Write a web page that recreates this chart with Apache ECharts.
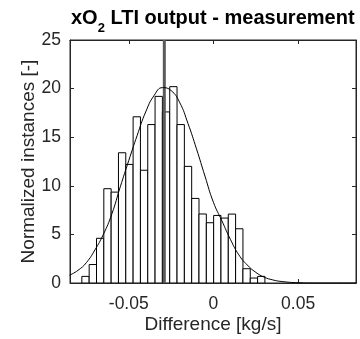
<!DOCTYPE html>
<html>
<head>
<meta charset="utf-8">
<script src="https://cdn.jsdelivr.net/npm/echarts@6/dist/echarts.min.js"></script>
<style>html,body{margin:0;padding:0;background:#fff}#c{width:360px;height:339px}</style>
</head>
<body>
<div id="c"></div>
<script>
// Histogram bin edges (kg/s) and normalized heights
var binEdges = [-0.0777, -0.07338, -0.06905, -0.06473, -0.0604, -0.05608, -0.05176, -0.04743, -0.04311, -0.03878,
  -0.03446, -0.03014, -0.02581, -0.02149, -0.01716, -0.01284, -0.00852, -0.00419, 0.00013, 0.00446,
  0.00878, 0.0131, 0.01743, 0.02175, 0.02608, 0.0304];
var binHeights = [0.68, 1.9, 4.6, 9.7, 9.35, 13.4, 12.2, 17.1, 11.6, 16.3, 19.2, 17.6, 20.2, 16.3, 12.0,
  8.7, 7.1, 6.2, 6.95, 6.68, 7.09, 5.58, 1.47, 0.51, 0.68];
// Fitted normal curve
var curveX = [-0.085, -0.08, -0.075, -0.07, -0.065, -0.06, -0.055, -0.05, -0.045, -0.04, -0.035, -0.03,
  -0.025, -0.02, -0.015, -0.01, -0.005, 0, 0.005, 0.01, 0.015, 0.02, 0.025, 0.03, 0.035, 0.04, 0.05, 0.06, 0.07, 0.085];
var curveY = [0.8, 1.3, 2.1, 3.4, 5.0, 7.1, 9.9, 12.6, 15.2, 17.6, 19.3, 20.1,
  19.8, 18.6, 16.4, 13.8, 11.0, 8.3, 6.4, 4.5, 2.9, 1.85, 1.1, 0.6, 0.32, 0.16, 0.03, 0.0, 0.0, 0.0];
// Mean marker
var meanX = [-0.029, -0.029];
var meanY = [0, 25];
// Axis ticks
var xTicks = [-0.05, 0, 0.05];
var xTickLabels = ['-0.05', '0', '0.05'];
var yTicks = [0, 5, 10, 15, 20, 25];
var xMin = -0.0847, xMax = 0.0842;

var axisColor = '#262626';
var font = 'Liberation Sans, Arial, Helvetica, sans-serif';

var barData = [];
for (var i = 0; i < binHeights.length; i++) barData.push([binEdges[i], binEdges[i + 1], binHeights[i]]);
var curveData = curveX.map(function (x, i) { return [x, curveY[i]]; });
var meanData = meanX.map(function (x, i) { return [x, meanY[i]]; });

var chart = echarts.init(document.getElementById('c'), null, { renderer: 'canvas' });
chart.setOption({
  animation: false,
  backgroundColor: '#fff',
  title: {
    text: '{b|xO}{s|2}{b| LTI output - measurement}',
    left: 71, top: 8, padding: 0,
    textStyle: {
      rich: {
        b: { fontFamily: font, fontWeight: 'bold', fontSize: 20, color: '#000', lineHeight: 22, verticalAlign: 'top' },
        s: { fontFamily: font, fontWeight: 'bold', fontSize: 13, color: '#000', lineHeight: 9, padding: [14, 0, 0, 0], verticalAlign: 'top' }
      }
    }
  },
  grid: { left: 70, right: 4, top: 40, bottom: 56, show: true, borderColor: axisColor, borderWidth: 1, backgroundColor: '#fff' },
  xAxis: [{
    type: 'value', min: xMin, max: xMax, position: 'bottom',
    name: 'Difference [kg/s]', nameLocation: 'middle', nameGap: 32, nameMoveOverlap: false,
    nameTextStyle: { fontFamily: font, fontSize: 19, color: axisColor },
    axisLine: { show: true, onZero: false, lineStyle: { color: axisColor } },
    axisTick: { show: true, inside: true, length: 4, customValues: xTicks, lineStyle: { color: axisColor } },
    axisLabel: { show: true, margin: 12, customValues: xTicks, fontFamily: font, fontSize: 17.5, color: axisColor,
      formatter: function (v) { var k = xTicks.indexOf(v); return k >= 0 ? xTickLabels[k] : ''; } },
    splitLine: { show: false }
  }, {
    type: 'value', min: xMin, max: xMax, position: 'top',
    axisLine: { show: true, onZero: false, lineStyle: { color: axisColor } },
    axisTick: { show: true, inside: true, length: 4, customValues: xTicks, lineStyle: { color: axisColor } },
    axisLabel: { show: false }, splitLine: { show: false }
  }],
  yAxis: [{
    type: 'value', min: 0, max: 25, interval: 5, position: 'left',
    name: 'Normalized instances [-]', nameLocation: 'middle', nameGap: 32, nameMoveOverlap: false,
    nameTextStyle: { fontFamily: font, fontSize: 19, color: axisColor },
    axisLine: { show: true, onZero: false, lineStyle: { color: axisColor } },
    axisTick: { show: true, inside: true, length: 4, lineStyle: { color: axisColor } },
    axisLabel: { show: true, margin: 9, fontFamily: font, fontSize: 17.5, color: axisColor },
    splitLine: { show: false }
  }, {
    type: 'value', min: 0, max: 25, interval: 5, position: 'right',
    axisLine: { show: true, onZero: false, lineStyle: { color: axisColor } },
    axisTick: { show: true, inside: true, length: 4, lineStyle: { color: axisColor } },
    axisLabel: { show: false }, splitLine: { show: false }
  }],
  series: [{
    type: 'custom',
    data: barData,
    clip: true,
    z: 2,
    renderItem: function (params, api) {
      var p0 = api.coord([api.value(0), api.value(2)]);
      var p1 = api.coord([api.value(1), 0]);
      return {
        type: 'rect',
        shape: { x: p0[0], y: p0[1], width: p1[0] - p0[0], height: p1[1] - p0[1] },
        style: { fill: '#ffffff', stroke: '#000000', lineWidth: 1 }
      };
    }
  }, {
    type: 'line', data: meanData, showSymbol: false, z: 3,
    lineStyle: { color: '#5a5a5a', width: 3 }
  }, {
    type: 'line', data: curveData, smooth: true, showSymbol: false, z: 4, clip: true,
    lineStyle: { color: '#000000', width: 1 }
  }]
});
</script>
</body>
</html>
